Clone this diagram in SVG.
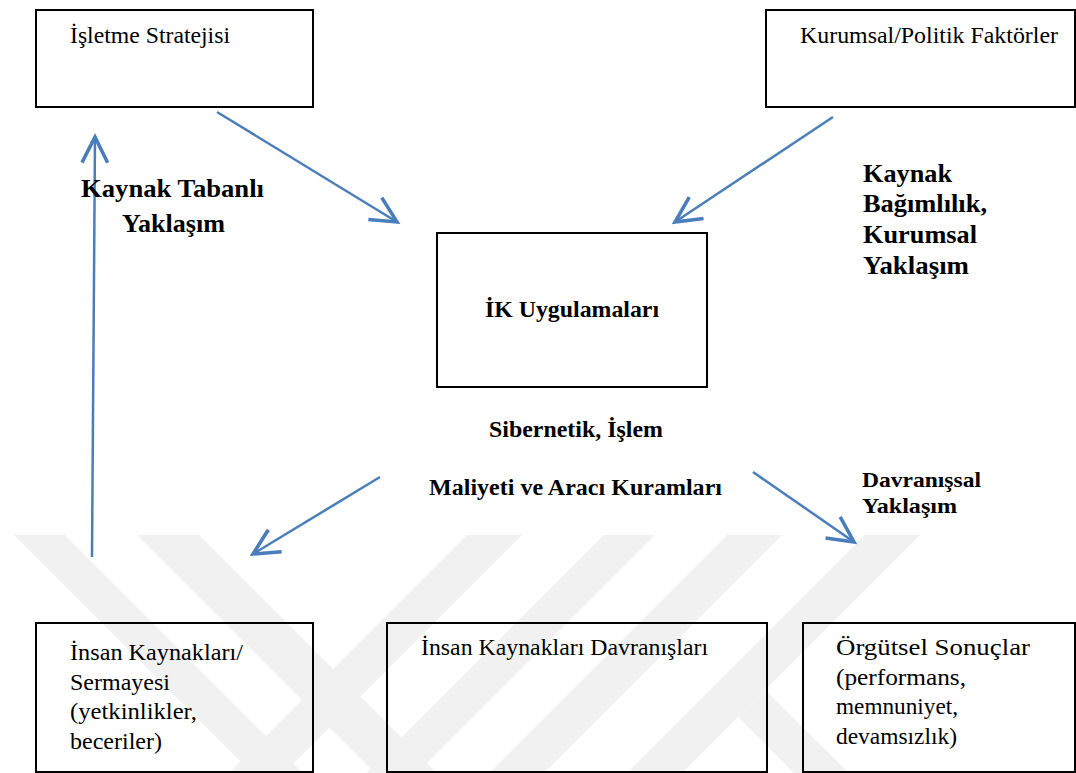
<svg xmlns="http://www.w3.org/2000/svg" width="1076" height="773" viewBox="0 0 1076 773">
  <style>
    .box { fill: none; stroke: #000; stroke-width: 2; }
    .t { font-family: "Liberation Serif", "Times New Roman", serif; font-size: 23px; fill: #000; }
    .b { font-family: "Liberation Serif", "Times New Roman", serif; font-size: 23px; font-weight: bold; fill: #000; }
    .big { font-size: 25px; }
    .small { font-size: 22px; }
    .link { fill: none; stroke: #4A7EBB; stroke-width: 2.5; marker-end: url(#open); }
    .wm { fill: #f1f1f1; }
  </style>
  <defs>
    <marker id="open" markerUnits="userSpaceOnUse" markerWidth="40" markerHeight="40" refX="0" refY="0" viewBox="-22 -14 26 28" orient="auto" overflow="visible">
      <path d="M-18,-9 L0,0 L-18,9" fill="none" stroke="#4A7EBB" stroke-width="2.5" stroke-linejoin="miter"/>
    </marker>
  </defs>

  <rect width="1076" height="773" fill="#fff"/>

  <!-- faint diagonal background bands -->
  <g id="background-bands">
    <polygon class="wm" points="14,535 65,535 303,773 252,773"/>
    <polygon class="wm" points="137,535 199,535 437,773 375,773"/>
    <polygon class="wm" points="467,535 522,535 284,773 229,773"/>
    <polygon class="wm" points="604,535 655,535 417,773 366,773"/>
    <polygon class="wm" points="727,535 782,535 544,773 489,773"/>
    <polygon class="wm" points="865,535 920,535 682,773 627,773"/>
    <polygon class="wm" points="765,690 738,717 794,773 849,773"/>
  </g>

  <!-- connectors -->
  <g id="connectors">
    <path class="link" d="M217,112 L397,222"/>
    <path class="link" d="M833,117 L675,222"/>
    <path class="link" d="M92,557 L95,137"/>
    <path class="link" d="M380,477 L253,554"/>
    <path class="link" d="M753,472 L854,542"/>
  </g>

  <!-- edge labels -->
  <g id="label-kaynak-tabanli">
    <text class="b big" x="81" y="197" textLength="183" lengthAdjust="spacingAndGlyphs">Kaynak Tabanlı</text>
    <text class="b big" x="122" y="232" textLength="103" lengthAdjust="spacingAndGlyphs">Yaklaşım</text>
  </g>
  <g id="label-kaynak-bagimlilik">
    <text class="b big" x="863" y="182" textLength="89" lengthAdjust="spacingAndGlyphs">Kaynak</text>
    <text class="b big" x="863" y="212" textLength="124" lengthAdjust="spacingAndGlyphs">Bağımlılık,</text>
    <text class="b big" x="863" y="243" textLength="114" lengthAdjust="spacingAndGlyphs">Kurumsal</text>
    <text class="b big" x="863" y="274" textLength="106" lengthAdjust="spacingAndGlyphs">Yaklaşım</text>
  </g>
  <g id="label-sibernetik">
    <text class="b" x="489" y="437" textLength="174" lengthAdjust="spacingAndGlyphs">Sibernetik, İşlem</text>
    <text class="b" x="429" y="495" textLength="293" lengthAdjust="spacingAndGlyphs">Maliyeti ve Aracı Kuramları</text>
  </g>
  <g id="label-davranissal">
    <text class="b small" x="862" y="487" textLength="119" lengthAdjust="spacingAndGlyphs">Davranışsal</text>
    <text class="b small" x="862" y="513" textLength="95" lengthAdjust="spacingAndGlyphs">Yaklaşım</text>
  </g>

  <!-- nodes -->
  <g id="isletme-stratejisi">
    <rect class="box" x="36" y="10" width="277" height="97"/>
    <text class="t" x="70" y="43" textLength="160" lengthAdjust="spacingAndGlyphs">İşletme Stratejisi</text>
  </g>
  <g id="kurumsal-politik">
    <rect class="box" x="766" y="10" width="309" height="97"/>
    <text class="t" x="800" y="43" textLength="258" lengthAdjust="spacingAndGlyphs">Kurumsal/Politik Faktörler</text>
  </g>
  <g id="ik-uygulamalari">
    <rect class="box" x="437" y="233" width="270" height="154"/>
    <text class="b" x="485" y="317" textLength="174" lengthAdjust="spacingAndGlyphs">İK Uygulamaları</text>
  </g>
  <g id="insan-kaynaklari-sermayesi">
    <rect class="box" x="36" y="623" width="277" height="149"/>
    <text class="t" x="70" y="660" textLength="173" lengthAdjust="spacingAndGlyphs">İnsan Kaynakları/</text>
    <text class="t" x="70" y="690" textLength="100" lengthAdjust="spacingAndGlyphs">Sermayesi</text>
    <text class="t" x="70" y="719" textLength="127" lengthAdjust="spacingAndGlyphs">(yetkinlikler,</text>
    <text class="t" x="70" y="749" textLength="92" lengthAdjust="spacingAndGlyphs">beceriler)</text>
  </g>
  <g id="insan-kaynaklari-davranislari">
    <rect class="box" x="387" y="623" width="380" height="149"/>
    <text class="t" x="421" y="655" textLength="287" lengthAdjust="spacingAndGlyphs">İnsan Kaynakları Davranışları</text>
  </g>
  <g id="orgutsel-sonuclar">
    <rect class="box" x="803" y="623" width="272" height="149"/>
    <text class="t" x="836" y="655" textLength="194" lengthAdjust="spacingAndGlyphs">Örgütsel Sonuçlar</text>
    <text class="t" x="836" y="685" textLength="130" lengthAdjust="spacingAndGlyphs">(performans,</text>
    <text class="t" x="836" y="714" textLength="122" lengthAdjust="spacingAndGlyphs">memnuniyet,</text>
    <text class="t" x="836" y="744" textLength="121" lengthAdjust="spacingAndGlyphs">devamsızlık)</text>
  </g>
</svg>
